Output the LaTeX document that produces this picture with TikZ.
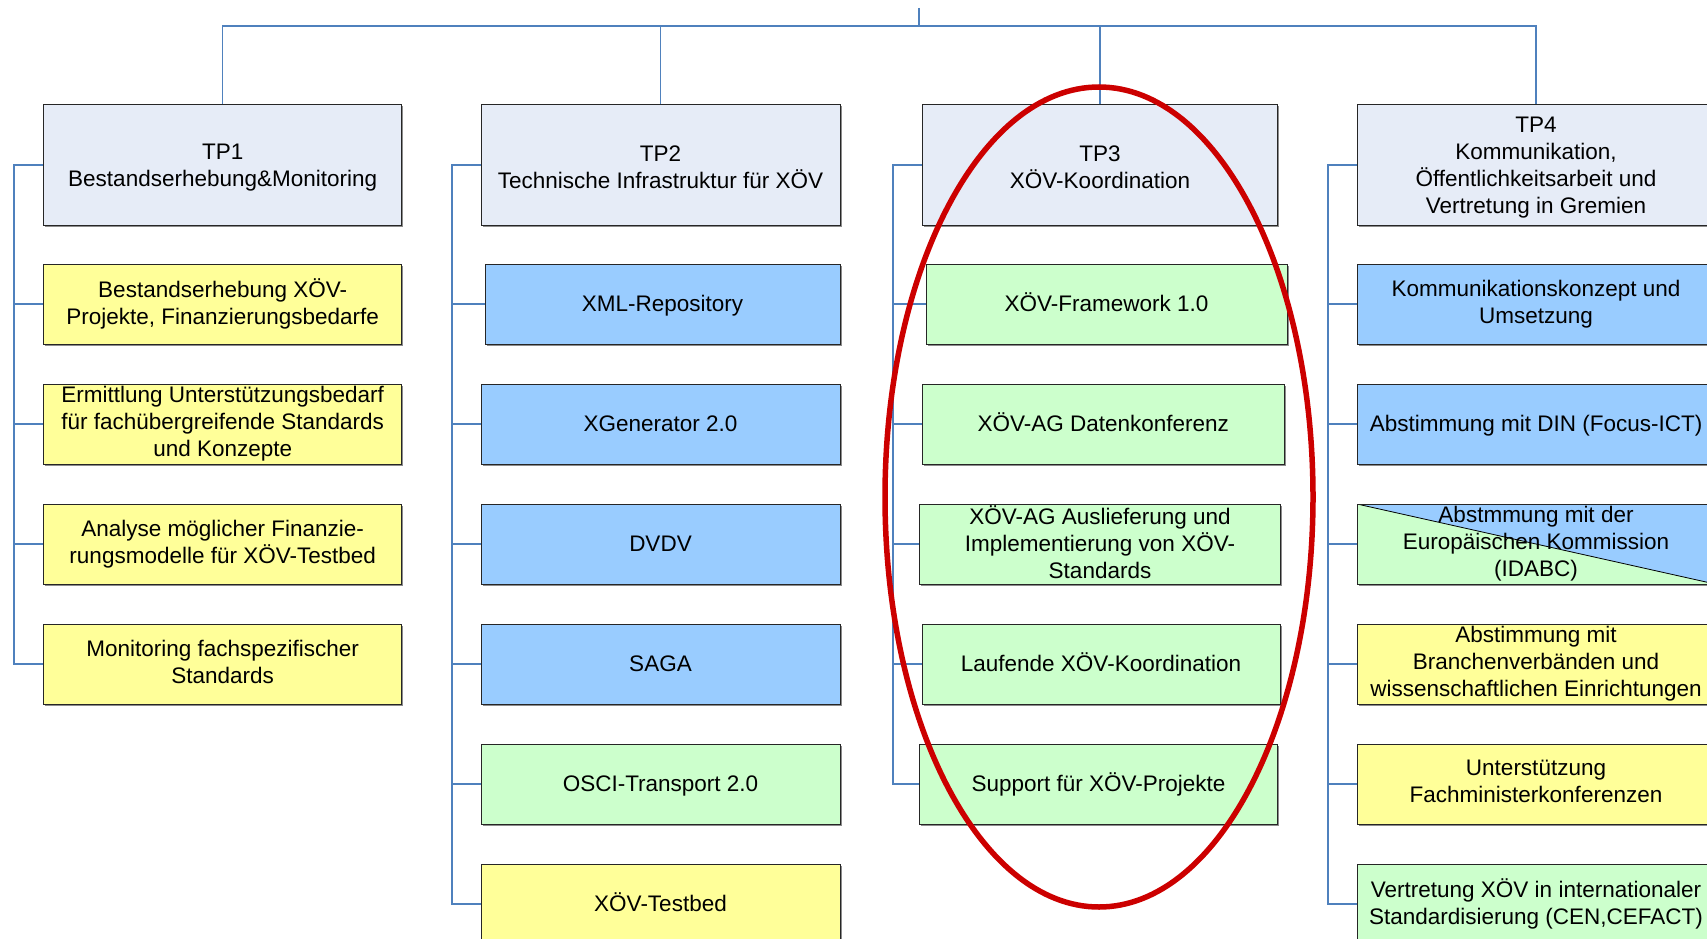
\documentclass[tikz,border=0pt]{standalone}
\usepackage{fontspec}
\setmainfont{Liberation Sans}
\usetikzlibrary{shadows}

\definecolor{headfill}{RGB}{230,236,247}
\definecolor{yellowfill}{RGB}{255,255,153}
\definecolor{bluefill}{RGB}{153,204,255}
\definecolor{greenfill}{RGB}{204,255,204}
\definecolor{linkblue}{RGB}{79,129,189}
\definecolor{markred}{RGB}{204,0,0}

\tikzset{
  box/.style={rectangle, draw=black!85, line width=1pt, align=center,
    inner sep=0pt, minimum height=80pt, minimum width=358pt,
    font=\fontsize{22.5}{27}\selectfont,
    % font ascent / descent struts so text is centred like the office layout
    execute at begin node={\rule{0pt}{20.4pt}},
    execute at end node={\rule[-4.8pt]{0pt}{4.8pt}},
    drop shadow={shadow xshift=1.5pt, shadow yshift=-1.5pt, fill=black!45, opacity=1}},
  head/.style={box, fill=headfill, minimum height=120pt},
  htxt/.style={align=center, inner sep=0pt, yshift=-2.7pt,
    font=\fontsize{22.5}{27}\selectfont},
  ybox/.style={box, fill=yellowfill},
  bbox/.style={box, fill=bluefill},
  gbox/.style={box, fill=greenfill},
  splitbox/.style={box, fill=greenfill,
    path picture={
      \fill[bluefill] (path picture bounding box.north west) --
        (path picture bounding box.north east) --
        (path picture bounding box.south east) -- cycle;
      \draw[black, line width=0.8pt] (path picture bounding box.north west) --
        (path picture bounding box.south east);}},
  conn/.style={draw=linkblue, line width=1.5pt},
  highlight/.style={draw=markred, line width=5.5pt}
}

\begin{document}
\begin{tikzpicture}[x=1pt, y=-1pt]
\useasboundingbox (0,0) rectangle (1707,939);
\clip (0,0) rectangle (1707,939);

% work packages (title set slightly low in the box)
\node[head, label={[htxt]center:{TP1\\Bestandserhebung\&Monitoring}}] (t1) at (222.7,165) {};
\node[head, minimum width=359pt, label={[htxt]center:{TP2\\Technische Infrastruktur für XÖV}}] (t2) at (660.5,165) {};
\node[head, minimum width=355pt, label={[htxt]center:{TP3\\XÖV-Koordination}}] (t3) at (1100,165) {};
\node[head, label={[htxt]center:{TP4\\Kommunikation,\\Öffentlichkeitsarbeit und\\Vertretung in Gremien}}] (t4) at (1536,165) {};

% TP1 tasks
\node[ybox] (a1) at (222.7,304) {Bestandserhebung XÖV-\\Projekte, Finanzierungsbedarfe};
\node[ybox] (a2) at (222.7,424) {Ermittlung Unterstützungsbedarf\\für fachübergreifende Standards\\und Konzepte};
\node[ybox] (a3) at (222.7,544) {Analyse möglicher Finanzie-\\rungsmodelle für XÖV-Testbed};
\node[ybox] (a4) at (222.7,664) {Monitoring fachspezifischer\\Standards};

% TP2 tasks
\node[bbox, minimum width=355pt] (b1) at (662.5,304) {XML-Repository};
\node[bbox, minimum width=359pt] (b2) at (660.5,424) {XGenerator 2.0};
\node[bbox, minimum width=359pt] (b3) at (660.5,544) {DVDV};
\node[bbox, minimum width=359pt] (b4) at (660.5,664) {SAGA};
\node[gbox, minimum width=359pt] (b5) at (660.5,784) {OSCI-Transport 2.0};
\node[ybox, minimum width=359pt] (b6) at (660.5,904) {XÖV-Testbed};

% TP3 tasks
\node[gbox, minimum width=361pt] (c1) at (1106.5,304) {XÖV-Framework 1.0};
\node[gbox, minimum width=362pt] (c2) at (1103.2,424) {XÖV-AG Datenkonferenz};
\node[gbox, minimum width=361pt] (c3) at (1100,544) {XÖV-AG Auslieferung und\\Implementierung von XÖV-\\Standards};
\node[gbox, minimum width=358pt] (c4) at (1101,664) {Laufende XÖV-Koordination};
\node[gbox, minimum width=358pt] (c5) at (1098.5,784) {Support für XÖV-Projekte};

% TP4 tasks
\node[bbox] (d1) at (1536,304) {Kommunikationskonzept und\\Umsetzung};
\node[bbox] (d2) at (1536,424) {Abstimmung mit DIN (Focus-ICT)};
\node[splitbox] (d3) at (1536,544) {Abstmmung mit der\\Europäischen Kommission\\(IDABC)};
\node[ybox] (d4) at (1536,664) {Abstimmung mit\\Branchenverbänden und\\wissenschaftlichen Einrichtungen};
\node[ybox] (d5) at (1536,784) {Unterstützung\\Fachministerkonferenzen};
\node[gbox] (d6) at (1536,904) {Vertretung XÖV in internationaler\\Standardisierung (CEN,CEFACT)};

% top-level bus
\coordinate (root) at (919,8);
\coordinate (bus) at (919,26);
\draw[conn] (root) -- (bus);
\draw[conn] (t1.north) |- (bus) -| (t4.north);
\draw[conn] (t2.north) -- (t2.north |- bus);
\draw[conn] (t3.north) -- (t3.north |- bus);

% column brackets
\coordinate (k1) at (13.8,165);
\coordinate (k2) at (452,165);
\coordinate (k3) at (893,165);
\coordinate (k4) at (1328,165);

\draw[conn] (t1.west) -- (k1) |- (a4.west);
\foreach \n in {a1,a2,a3} \draw[conn] (k1 |- \n.west) -- (\n.west);

\draw[conn] (t2.west) -- (k2) |- (b6.west);
\foreach \n in {b1,b2,b3,b4,b5} \draw[conn] (k2 |- \n.west) -- (\n.west);

\draw[conn] (t3.west) -- (k3) |- (c5.west);
\foreach \n in {c1,c2,c3,c4} \draw[conn] (k3 |- \n.west) -- (\n.west);

\draw[conn] (t4.west) -- (k4) |- (d6.west);
\foreach \n in {d1,d2,d3,d4,d5} \draw[conn] (k4 |- \n.west) -- (\n.west);

% highlight around TP3
\draw[highlight] (1099,497) ellipse [x radius=214, y radius=410];
\end{tikzpicture}
\end{document}
